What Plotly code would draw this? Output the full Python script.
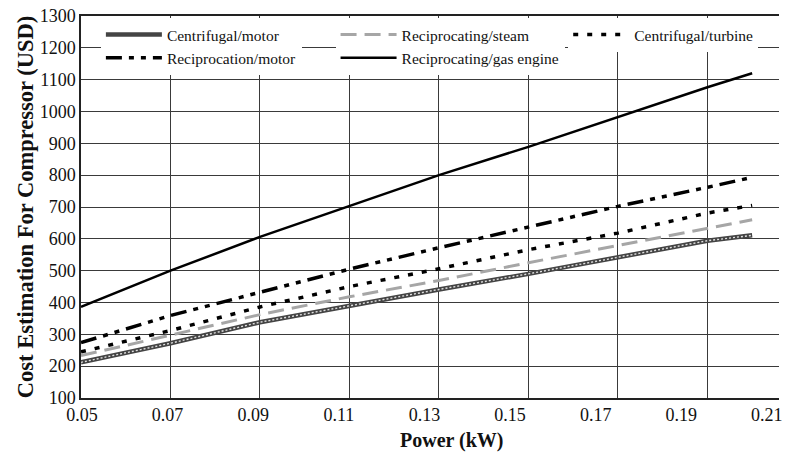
import plotly.graph_objects as go

power_kw = [0.05, 0.07, 0.09, 0.11, 0.13, 0.15, 0.17, 0.19, 0.20]
centrifugal_motor = [212, 272, 338, 390, 441, 490, 542, 594, 611]
reciprocating_steam = [233, 297, 362, 418, 469, 525, 579, 634, 660]
centrifugal_turbine = [245, 312, 386, 450, 506, 566, 618, 681, 705]
reciprocation_motor = [274, 359, 432, 505, 572, 637, 702, 762, 793]
reciprocating_gas = [386, 500, 606, 702, 800, 889, 982, 1076, 1120]

tick_labels = ["0.05", "0.07", "0.09", "0.11", "0.13", "0.15", "0.17", "0.19", "0.21"]
tick_vals = [0.05, 0.07, 0.09, 0.11, 0.13, 0.15, 0.17, 0.19, 0.21]

SERIF = "Liberation Serif, serif"

fig = go.Figure()
fig.add_trace(go.Scatter(x=power_kw, y=centrifugal_motor, name="Centrifugal/motor", mode="lines",
                         legend="legend", line=dict(color="#444444", width=4.5)))
fig.add_trace(go.Scatter(x=power_kw, y=reciprocating_steam, name="Reciprocating/steam", mode="lines",
                         legend="legend2", line=dict(color="#a6a6a6", width=3, dash="16px,8px")))
fig.add_trace(go.Scatter(x=power_kw, y=centrifugal_turbine, name="Centrifugal/turbine", mode="lines",
                         legend="legend3", line=dict(color="#000000", width=3.5, dash="5px,9px")))
fig.add_trace(go.Scatter(x=power_kw, y=reciprocation_motor, name="Reciprocation/motor", mode="lines",
                         legend="legend",
                         line=dict(color="#000000", width=3.5, dash="16px,7px,5px,7px,5px,7px")))
fig.add_trace(go.Scatter(x=power_kw, y=reciprocating_gas, name="Reciprocating/gas engine", mode="lines",
                         legend="legend2", line=dict(color="#000000", width=2.5)))
# speckled texture of the centrifugal/motor line
fig.add_trace(go.Scatter(x=power_kw, y=centrifugal_motor, mode="lines", showlegend=False, hoverinfo="skip",
                         line=dict(color="#e0e0e0", width=1.4, dash="2px,2px")))
# helper trace for the label axis
fig.add_trace(go.Scatter(x=[tick_vals[0], tick_vals[-1]], y=[None, None], xaxis="x2", mode="lines",
                         showlegend=False, hoverinfo="skip"))

W, H = 789, 457
L, R, T, B = 81, 6, 14, 59


def col_legend(xpos):
    return dict(orientation="v", x=xpos, y=0.995, xanchor="left", yanchor="top",
                bgcolor="white", borderwidth=0, itemwidth=56, tracegroupgap=0,
                font=dict(family=SERIF, size=15.5, color="#111"))


fig.update_layout(
    width=W, height=H,
    margin=dict(l=L, r=R, t=T, b=B),
    paper_bgcolor="white", plot_bgcolor="white",
    font=dict(family=SERIF, size=18, color="#111"),
    showlegend=True,
    legend=col_legend(0.0285),
    legend2=col_legend(0.3647),
    legend3=col_legend(0.698),
    xaxis=dict(range=[0.05, 0.05 + (W - L - R) / 4500.0], dtick=0.02, tick0=0.05,
               showticklabels=False, ticks="", showgrid=True, gridcolor="#3a3a3a", gridwidth=1.2,
               showline=True, linecolor="#222", linewidth=1.5, mirror=True, zeroline=False,
               fixedrange=True),
    xaxis2=dict(overlaying="x", side="bottom", range=[0.05 - 1 / 4305.0, 0.05 + 701 / 4305.0],
                tickvals=tick_vals, ticktext=tick_labels, showgrid=False, showline=False,
                zeroline=False, ticks="", ticklabelstandoff=4,
                tickfont=dict(family=SERIF, size=18, color="#111")),
    yaxis=dict(range=[100, 1300], dtick=100, tick0=100, showgrid=True, gridcolor="#3a3a3a",
               gridwidth=1.2, showline=True, linecolor="#222", linewidth=1.5, zeroline=False,
               ticks="", tickfont=dict(family=SERIF, size=18, color="#111"),
               title=dict(text="<b>Cost Estimation For Compressor (USD)</b>",
                          font=dict(family=SERIF, size=22.5, color="#111"), standoff=0)),
    annotations=[dict(text="<b>Power (kW)</b>", xref="paper", yref="paper", x=0.531, y=-0.112,
                      xanchor="center", yanchor="middle", showarrow=False,
                      font=dict(family=SERIF, size=20, color="#111"))],
)

fig.write_html("out.html")
